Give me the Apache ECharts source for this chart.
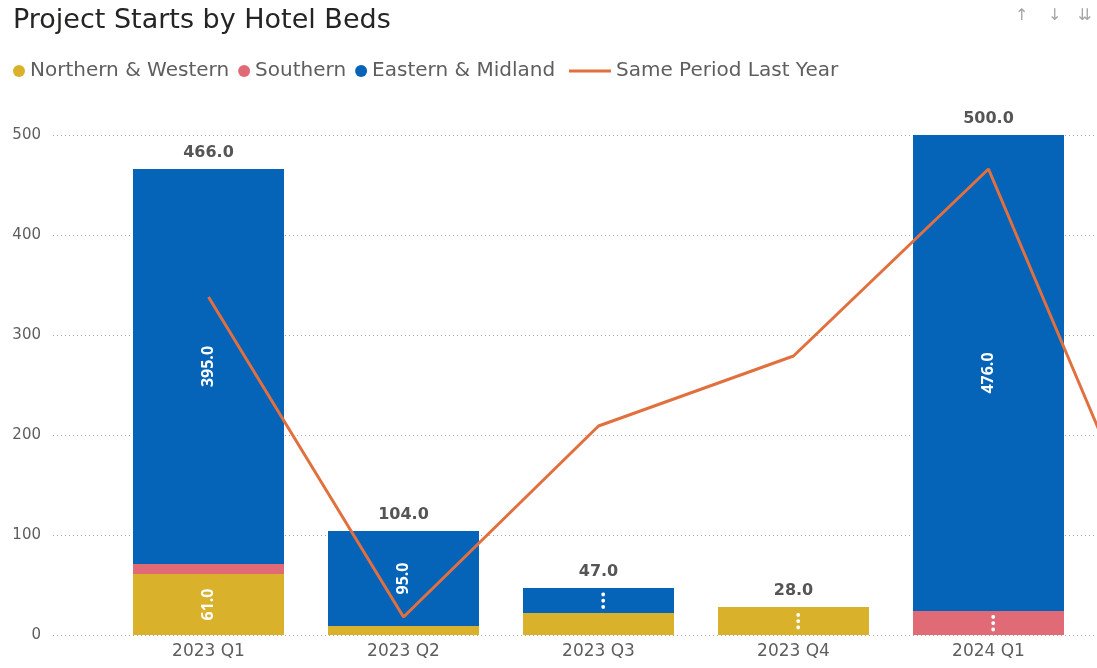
<!DOCTYPE html>
<html>
<head>
<meta charset="utf-8">
<title>Project Starts by Hotel Beds</title>
<script src="https://cdn.jsdelivr.net/npm/echarts@6/dist/echarts.min.js"></script>
<style>
  html, body { margin: 0; padding: 0; background: #fff; overflow: hidden; width: 1097px; height: 668px; }
  /* the canvas runs past the right edge so the last quarter sits off-screen */
  #chart { width: 1281px; height: 668px; }
</style>
</head>
<body>
<div id="chart"></div>
<script>
// Quarterly project starts (hotel beds) by region
const categories = ['2023 Q1', '2023 Q2', '2023 Q3', '2023 Q4', '2024 Q1', '2024 Q2'];
const northernWestern = [61, 9, 22, 28, 0, null];
const southern = [10, 0, 0, 0, 24, null];
const easternMidland = [395, 95, 25, 0, 476, null];
const samePeriodLastYear = [338, 18, 209, 279, 466, 5];
const yTicks = { min: 0, max: 500, interval: 100 };

const totals = categories.map((_, i) => {
  const parts = [northernWestern[i], southern[i], easternMidland[i]];
  if (parts.every(v => v == null)) return null;
  return parts.reduce((s, v) => s + (v || 0), 0);
});

const FONT = '"DejaVu Sans", sans-serif';
const LABEL_FONT = '"Open Sans", sans-serif';
const COLORS = {
  nw: '#D9B12A',
  south: '#E06B77',
  east: '#0563B8',
  line: '#E2703F'
};
const VISIBLE_W = 1097;
const CANVAS_W = 1281;

// Segment labels: full value when the segment is tall enough, an ellipsis when it is small
function segmentLabel(p) {
  const v = p.value;
  if (v == null || v < 24) return '';
  if (v < 50) return '{dots|…}';
  return v.toFixed(1);
}

const insideLabel = {
  show: true,
  position: 'inside',
  rotate: 90,
  color: '#ffffff',
  fontFamily: LABEL_FONT,
  fontWeight: 'bold',
  fontSize: 16,
  formatter: segmentLabel,
  rich: {
    dots: { color: '#ffffff', fontFamily: LABEL_FONT, fontWeight: 'bold', fontSize: 22 }
  }
};

const BAR_W = 151;

const chart = echarts.init(document.getElementById('chart'), null, { renderer: 'canvas' });

chart.setOption({
  animation: false,
  backgroundColor: '#ffffff',
  title: {
    text: 'Project Starts by Hotel Beds',
    left: 8,
    top: 2,
    textStyle: { fontFamily: FONT, fontSize: 27, fontWeight: 'normal', color: '#252423' }
  },
  legend: [
    {
      data: ['Northern & Western', 'Southern', 'Eastern & Midland'],
      left: 8,
      top: 56,
      icon: 'circle',
      itemWidth: 12,
      itemHeight: 12,
      itemGap: 9,
      textStyle: { fontFamily: FONT, fontSize: 20, color: '#605E5C' }
    },
    {
      data: ['Same Period Last Year'],
      left: 564,
      top: 56,
      icon: 'rect',
      itemWidth: 42,
      itemHeight: 3,
      textStyle: { fontFamily: FONT, fontSize: 20, color: '#605E5C' }
    }
  ],
  graphic: [
    { type: 'text', left: 1015, top: 8, style: { text: '↑', fontSize: 16, fill: '#a6a6a6', fontFamily: 'DejaVu Sans' } },
    { type: 'text', left: 1048, top: 8, style: { text: '↓', fontSize: 16, fill: '#a6a6a6', fontFamily: 'DejaVu Sans' } },
    { type: 'text', left: 1078, top: 8, style: { text: '⇊', fontSize: 16, fill: '#a6a6a6', fontFamily: 'DejaVu Sans' } }
  ],
  grid: [
    // plot area for the bars and line
    { left: 111, right: 0, top: 135, bottom: 33, containLabel: false },
    // visible-width area that carries the value labels and dotted gridlines
    { left: 53, right: CANVAS_W - VISIBLE_W, top: 135, bottom: 33, containLabel: false }
  ],
  xAxis: [
    {
      type: 'category',
      gridIndex: 0,
      data: categories,
      axisLine: { show: false },
      axisTick: { show: false },
      axisLabel: { color: '#605E5C', fontFamily: FONT, fontSize: 17, margin: 8 }
    },
    { type: 'value', gridIndex: 1, show: false, min: 0, max: 1 }
  ],
  yAxis: [
    {
      type: 'value',
      gridIndex: 0,
      min: yTicks.min,
      max: yTicks.max,
      interval: yTicks.interval,
      show: false,
      splitLine: { show: false }
    },
    {
      type: 'value',
      gridIndex: 1,
      min: yTicks.min,
      max: yTicks.max,
      interval: yTicks.interval,
      axisLine: { show: false },
      axisTick: { show: false },
      axisLabel: { color: '#605E5C', fontFamily: FONT, fontSize: 15, margin: 12 },
      splitLine: { show: true, lineStyle: { color: '#a8a8a8', width: 1, type: [1, 3] } }
    }
  ],
  series: [
    {
      name: 'Northern & Western',
      type: 'bar',
      stack: 'region',
      barWidth: BAR_W,
      data: northernWestern,
      itemStyle: { color: COLORS.nw },
      label: insideLabel
    },
    {
      name: 'Southern',
      type: 'bar',
      stack: 'region',
      barWidth: BAR_W,
      data: southern,
      itemStyle: { color: COLORS.south },
      label: insideLabel
    },
    {
      name: 'Eastern & Midland',
      type: 'bar',
      stack: 'region',
      barWidth: BAR_W,
      data: easternMidland,
      itemStyle: { color: COLORS.east },
      label: insideLabel
    },
    {
      // column totals written above each stack
      name: 'Total',
      type: 'bar',
      barWidth: BAR_W,
      barGap: '-100%',
      data: totals,
      silent: true,
      itemStyle: { color: 'rgba(0,0,0,0)' },
      label: {
        show: true,
        position: 'top',
        distance: 8,
        color: '#555555',
        fontFamily: FONT,
        fontWeight: 'bold',
        fontSize: 16,
        formatter: p => (p.value == null ? '' : p.value.toFixed(1))
      },
      z: 1
    },
    {
      name: 'Same Period Last Year',
      type: 'line',
      data: samePeriodLastYear,
      symbol: 'none',
      lineStyle: { color: COLORS.line, width: 3 },
      itemStyle: { color: COLORS.line },
      z: 5
    }
  ]
});
</script>
</body>
</html>
